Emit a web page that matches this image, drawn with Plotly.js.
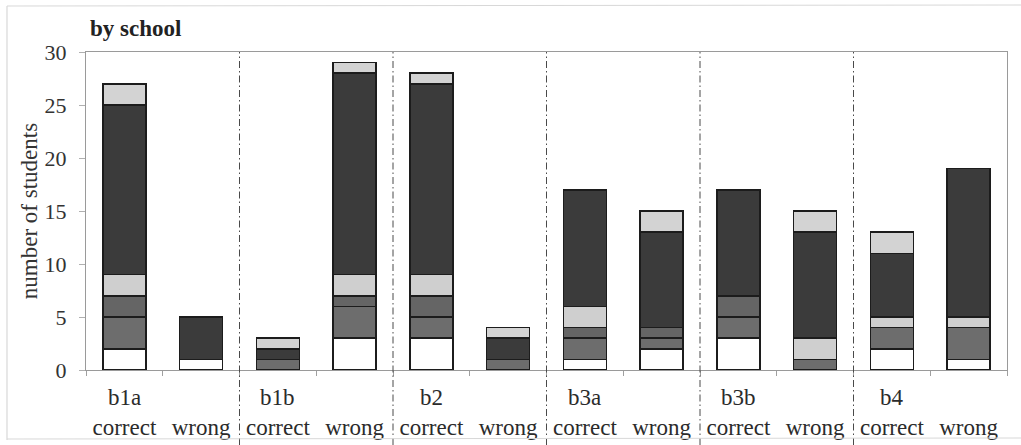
<!DOCTYPE html>
<html>
<head>
<meta charset="utf-8">
<script src="https://cdn.plot.ly/plotly-3.0.1.min.js"></script>
<style>
html,body{margin:0;padding:0;background:#fff;}
#chart{width:1021px;height:445px;}
</style>
</head>
<body>
<div id="chart"></div>
<script>
// ---- data ----
const schools  = ["b1a", "b1b", "b2", "b3a", "b3b", "b4"];
const outcomes = ["correct", "wrong"];
// 12 bars: each school x (correct, wrong)
const seriesWhite  = [2, 1, 0, 3, 3, 0, 1, 2, 3, 0, 2, 1];
const seriesGrayA  = [3, 0, 1, 3, 2, 1, 2, 1, 2, 1, 2, 3];
const seriesGrayB  = [2, 0, 0, 1, 2, 0, 1, 1, 2, 0, 0, 0];
const seriesLightA = [2, 0, 0, 2, 2, 0, 2, 0, 0, 2, 1, 1];
const seriesDark   = [16, 4, 1, 19, 18, 2, 11, 9, 10, 10, 6, 14];
const seriesLightB = [2, 0, 1, 1, 1, 1, 0, 2, 0, 2, 2, 0];
const yTicks = [0, 5, 10, 15, 20, 25, 30];

// ---- build ----
const xIdx = [], tickText = [];
schools.forEach((s, i) => outcomes.forEach((o, j) => { xIdx.push(i * outcomes.length + j); tickText.push(o); }));

const fontFam = '"Liberation Serif", "Times New Roman", serif';
const txtCol = '#2b2b2b';

const series = [
  {name: 'white',  vals: seriesWhite,  color: '#ffffff'},
  {name: 'grayA',  vals: seriesGrayA,  color: '#6d6d6d'},
  {name: 'grayB',  vals: seriesGrayB,  color: '#656565'},
  {name: 'lightA', vals: seriesLightA, color: '#cfcfcf'},
  {name: 'dark',   vals: seriesDark,   color: '#3b3b3b'},
  {name: 'lightB', vals: seriesLightB, color: '#d3d3d3'}
];

const traces = series.map(s => ({
  type: 'bar',
  name: s.name,
  x: xIdx,
  y: s.vals.map(v => v === 0 ? null : v),
  width: 0.56,
  marker: {color: s.color, line: {color: '#1c1c1c', width: 1.6}},
  hoverinfo: 'y+name'
}));

// divider positions between schools
const dividers = [];
for (let i = 1; i < schools.length; i++) dividers.push(i * outcomes.length - 0.5);
const boundaries = [];
for (let i = 0; i <= xIdx.length; i++) boundaries.push(i - 0.5);

const plotL = 86, plotR = 1007, plotT = 52, plotB = 370;
const pw = plotR - plotL, ph = plotB - plotT;
const px2x = p => (p - plotL) / pw;
const px2y = p => (plotB - p) / ph;

const shapes = dividers.map(d => ({
  type: 'line', xref: 'x', yref: 'paper',
  x0: d, x1: d, y0: px2y(445), y1: 1,
  line: {color: '#4a4a4a', width: 1, dash: '7px,3px,1.5px,3px'}
}));
// outer frame (top, left, bottom)
shapes.push({type:'line', xref:'paper', yref:'paper', x0:px2x(7), x1:px2x(1021), y0:px2y(6), y1:px2y(5), line:{color:'#d8d8d8', width:1.2}});
shapes.push({type:'line', xref:'paper', yref:'paper', x0:px2x(7), x1:px2x(7), y0:px2y(6), y1:px2y(440), line:{color:'#d8d8d8', width:1.2}});
shapes.push({type:'line', xref:'paper', yref:'paper', x0:px2x(7), x1:px2x(1021), y0:px2y(439), y1:px2y(438), line:{color:'#d8d8d8', width:1.2}});

const annotations = schools.map((s, i) => ({
  text: s, xref: 'x', yref: 'paper',
  x: i * outcomes.length, y: px2y(397),
  xanchor: 'center', yanchor: 'middle', showarrow: false,
  font: {family: fontFam, size: 23, color: txtCol}
}));

const layout = {
  width: 1021, height: 445,
  margin: {l: plotL, r: 1021 - plotR, t: plotT, b: 445 - plotB, pad: 0},
  paper_bgcolor: '#ffffff', plot_bgcolor: '#ffffff',
  barmode: 'stack', showlegend: false,
  font: {family: fontFam, size: 22, color: txtCol},
  title: {
    text: '<b>by school</b>', xref: 'container', yref: 'container',
    x: 90 / 1021, xanchor: 'left', y: 1 - 28 / 445, yanchor: 'middle',
    font: {family: fontFam, size: 23, color: '#222'}
  },
  xaxis: {
    range: [-0.5, xIdx.length - 0.5], tickmode: 'array', tickvals: xIdx, ticktext: tickText,
    ticks: '', showgrid: false, zeroline: false,
    showline: true, mirror: true, linecolor: '#9a9a9a', linewidth: 1,
    ticklabelstandoff: 36,
    tickfont: {family: fontFam, size: 23, color: txtCol},
    minor: {tickmode: 'array', tickvals: boundaries, ticks: 'outside', ticklen: 5, tickcolor: '#a0a0a0', tickwidth: 1, showgrid: false},
    fixedrange: true
  },
  yaxis: {
    range: [0, 30], tickmode: 'array', tickvals: yTicks,
    ticks: 'outside', ticklen: 6, tickcolor: '#b0b0b0', ticklabelstandoff: 8,
    showgrid: false, zeroline: false,
    showline: true, mirror: true, linecolor: '#9a9a9a', linewidth: 1,
    tickfont: {family: fontFam, size: 22, color: '#333'},
    title: {text: 'number of students', standoff: 0, font: {family: fontFam, size: 23, color: '#333'}},
    fixedrange: true
  },
  shapes: shapes,
  annotations: annotations
};

Plotly.newPlot('chart', traces, layout, {displayModeBar: false, staticPlot: true});
</script>
</body>
</html>
